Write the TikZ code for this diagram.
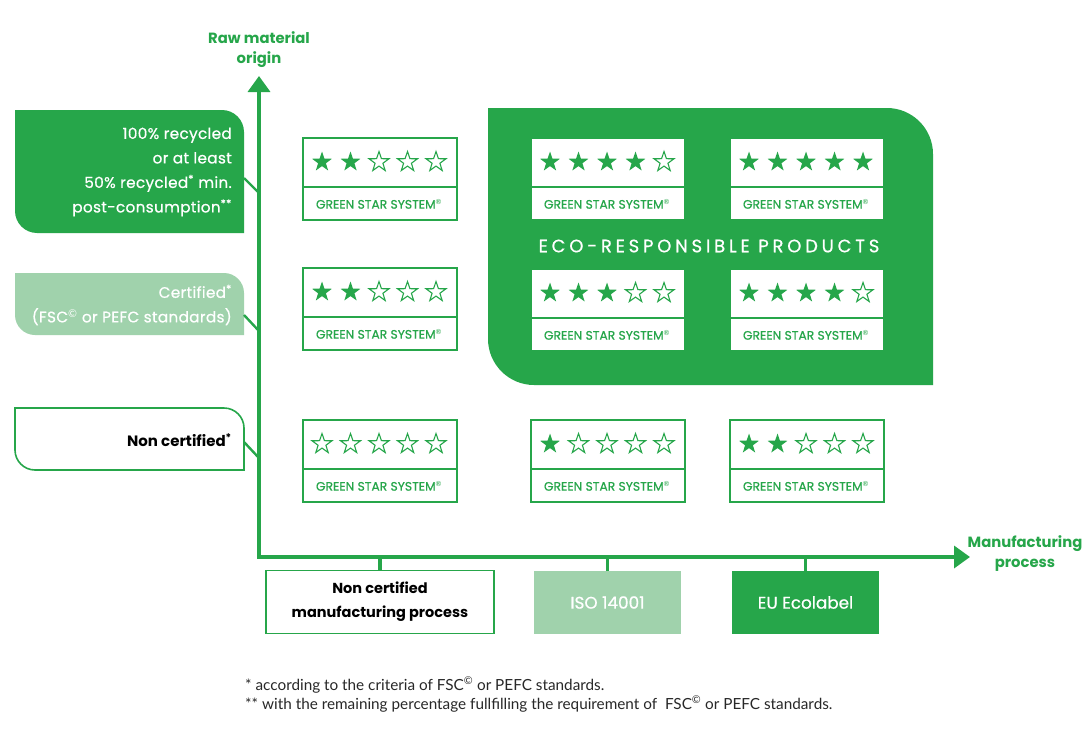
\documentclass[tikz,border=0pt]{standalone}
\usepackage{fontspec}
\setmainfont{Poppins}
\newfontfamily\footfont{Lato}
\newfontfamily\medfont[FakeBold=0.7]{Poppins}
\newcommand\regsym{\textsuperscript{\footfont\fontsize{7}{7}\selectfont ®}}
\newcommand\copsym{\textsuperscript{\footfont ©}}
\usetikzlibrary{arrows.meta}
\definecolor{gdark}{RGB}{38,166,74}
\definecolor{glight}{RGB}{160,210,172}
\definecolor{ftext}{RGB}{40,40,40}
\tikzset{
  starshape/.pic={\path[pic actions] (-90:10.5) -- (-54:4.1) -- (-18:10.5) -- (18:4.1) -- (54:10.5) -- (90:4.1) -- (126:10.5) -- (162:4.1) -- (198:10.5) -- (234:4.1) -- cycle;},
  gsframe/.style={draw=gdark, line width=1.8pt, fill=white, minimum width=154, minimum height=82, inner sep=0pt},
  gsline/.style={draw=gdark, line width=1.6pt},
  gslabel/.style={text=gdark, font=\medfont\fontsize{12.3}{13}\selectfont, inner sep=0pt},
  axis/.style={draw=gdark, line width=3.6pt, -{Triangle[width=22pt,length=16pt]}},
  stub/.style={draw=gdark, line width=3.6pt},
  lconn/.style={draw=gdark, line width=2.4pt},
  axlabel/.style={text=gdark, font=\bfseries\fontsize{14.8}{20}\selectfont, align=center, inner sep=0pt},
  ltext/.style={font=\medfont\fontsize{15.3}{24.5}\selectfont\addfontfeature{LetterSpace=2}, align=right, inner sep=0pt, anchor=east},
  btext/.style={font=\medfont\fontsize{16.8}{24}\selectfont, align=center, inner sep=0pt},
  foot/.style={text=ftext, font=\footfont\fontsize{15.3}{19}\selectfont, anchor=west, inner sep=0pt},
}
\newcommand\tabshape[6]{%
  \path[#6] (#1,#2) -- ({#3-#5},#2) .. controls ({#3-0.45*#5},#2) and (#3,{#2+0.45*#5}) .. (#3,{#2+#5}) -- (#3,#4) -- ({#1+#5},#4) .. controls ({#1+0.45*#5},#4) and (#1,{#4-0.45*#5}) .. (#1,{#4-#5}) -- cycle;}
\newcommand\gsbox[4]{%
  \node[gsframe] (#1) at ({#2+77},{#3+41}) {};
  \draw[gsline] (#2,{#3+49}) -- ({#2+154},{#3+49});
  \foreach \k in {1,...,5}{%
    \ifnum\k>#4\relax
      \pic[draw=gdark,line width=1.1pt] at ({#2+19+28.5*(\k-1)},{#3+24}) {starshape};
    \else
      \pic[fill=gdark] at ({#2+19+28.5*(\k-1)},{#3+24}) {starshape};
    \fi}
  \node[gslabel] at ({#2+76},{#3+66}) {GREEN STAR SYSTEM\regsym};
}
\begin{document}
\begin{tikzpicture}[x=1pt,y=-1pt]
\useasboundingbox (0,0) rectangle (1088,734);
\fill[white] (0,0) rectangle (1088,734);

% axes
\coordinate (origin) at (259,557);
\coordinate (ytop) at (259,76);
\coordinate (xend) at (970,557);

% eco-responsible area
\tabshape{488}{108}{933}{385}{46}{fill=gdark}
\node[text=white, font=\medfont\fontsize{18}{20}\selectfont\addfontfeature{LetterSpace=21}, inner sep=0pt] (eco) at (709,246) {ECO-RESPONSIBLE PRODUCTS};

% left category boxes
\tabshape{15}{110}{244}{233}{22}{fill=gdark}
\node[ltext, text=white] (raw1) at (232,172) {100\% recycled\\or at least\\50\% recycled\textsuperscript{*} min.\\post-consumption\textsuperscript{**}};
\tabshape{15}{273}{244}{335}{20}{fill=glight}
\node[ltext, text=white] (raw2) at (232,305) {Certified\textsuperscript{*}\\(FSC\copsym{} or PEFC standards)};
\tabshape{15}{408}{244}{470}{20}{fill=white, draw=gdark, line width=1.6pt}
\node[ltext, text=black, font=\bfseries\fontsize{15}{24.5}\selectfont] (raw3) at (232,440) {Non certified\textsuperscript{*}};

\coordinate (c1) at (244,178);
\coordinate (c2) at (244,315);
\coordinate (c3) at (244,442);
\draw[lconn] (c1) -- ([yshift=-15pt]c1 -| origin);
\draw[lconn] (c2) -- ([yshift=-16pt]c2 -| origin);
\draw[lconn] (c3) -- ([yshift=-16pt]c3 -| origin);

% axes drawn
\draw[axis] (origin) -- (ytop);
\draw[axis] ([xshift=-1.8pt]origin) -- (xend);
\node[axlabel] (ylab) at (259,50) {Raw material\\origin};
\node[axlabel] (xlab) at (1025,554) {Manufacturing\\process};

% star boxes
\gsbox{s11}{303}{138}{2}
\gsbox{s21}{303}{268}{2}
\gsbox{s31}{303}{420}{0}
\gsbox{s12}{531}{138}{4}
\gsbox{s13}{730}{138}{5}
\gsbox{s22}{531}{269}{3}
\gsbox{s23}{730}{269}{4}
\gsbox{s32}{531}{420}{1}
\gsbox{s33}{730}{420}{2}

% bottom boxes
\node[btext, font=\bfseries\fontsize{14.5}{24}\selectfont, draw=gdark, line width=1.8pt, fill=white, minimum width=228, minimum height=63] (m1) at (380,602) {Non certified\\manufacturing process};
\node[btext, text=white, fill=glight, minimum width=147, minimum height=63] (m2) at (607.5,602.5) {ISO 14001};
\node[btext, text=white, fill=gdark, minimum width=147, minimum height=63] (m3) at (805.5,602.5) {EU Ecolabel};
\draw[stub] (m1.north) -- (m1.north |- origin);
\draw[stub] (m2.north) -- (m2.north |- origin);
\draw[stub] (m3.north) -- (m3.north |- origin);

% footnotes
\node[foot] (f1) at (245,685) {* according to the criteria of FSC\textsuperscript{©} or PEFC standards.};
\node[foot] (f2) at (245,704) {** with the remaining percentage fullfilling the requirement of\ \ FSC\textsuperscript{©} or PEFC standards.};
\end{tikzpicture}
\end{document}
